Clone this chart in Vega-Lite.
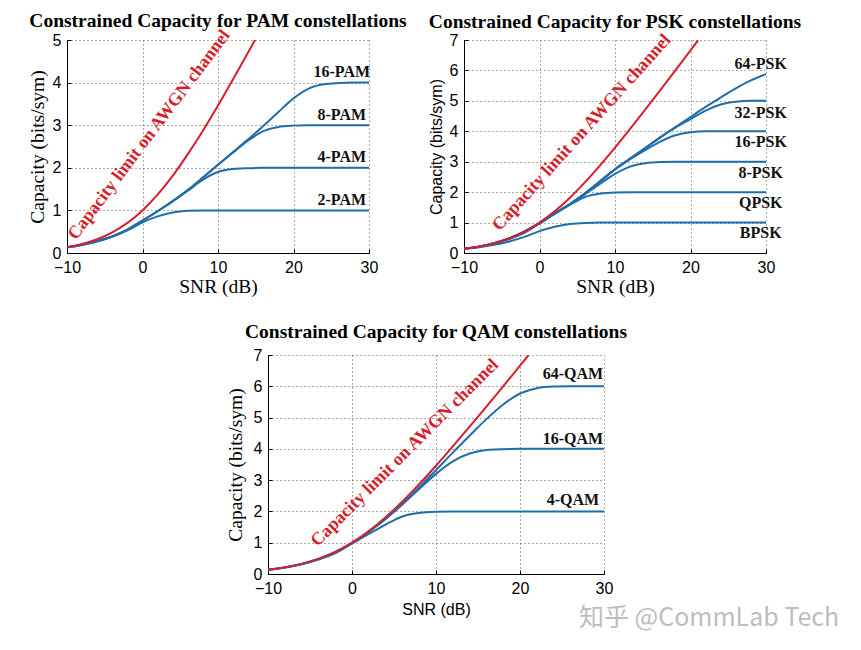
{
  "$schema": "https://vega.github.io/schema/vega-lite/v6.json",
  "background": "white",
  "padding": {"left": 27, "top": 11, "right": 0, "bottom": 0},
  "autosize": {"type": "pad"},
  "config": {
    "view": {"stroke": null},
    "font": "Liberation Sans",
    "axis": {
      "labelFont": "Liberation Sans", "labelFontSize": 16, "labelColor": "#000", "labelFlush": false,
      "grid": true, "gridDash": [1, 3], "gridColor": "#555", "gridWidth": 1,
      "domainColor": "#000", "domainWidth": 1, "ticks": true, "tickSize": -4, "tickColor": "#000",
      "titleColor": "#000", "titleFontWeight": "normal"
    },
    "axisX": {"labelPadding": 10, "titlePadding": 2},
    "axisY": {"labelPadding": 10, "titlePadding": 5},
    "title": {"font": "Liberation Serif", "fontSize": 19.5, "fontWeight": "bold", "color": "#000", "anchor": "middle"}
  },
  "datasets": {
    "pam": [
      {"curve": "AWGN", "snr": -10, "cap": 0.137}, {"curve": "AWGN", "snr": -8, "cap": 0.212}, {"curve": "AWGN", "snr": -6, "cap": 0.323}, {"curve": "AWGN", "snr": -4, "cap": 0.484}, {"curve": "AWGN", "snr": -2, "cap": 0.706}, {"curve": "AWGN", "snr": 0, "cap": 1.0}, {"curve": "AWGN", "snr": 2, "cap": 1.37}, {"curve": "AWGN", "snr": 4, "cap": 1.81}, {"curve": "AWGN", "snr": 6, "cap": 2.32}, {"curve": "AWGN", "snr": 8, "cap": 2.87}, {"curve": "AWGN", "snr": 10, "cap": 3.46}, {"curve": "AWGN", "snr": 12, "cap": 4.08}, {"curve": "AWGN", "snr": 14, "cap": 4.71}, {"curve": "AWGN", "snr": 15, "cap": 5.03},
      {"curve": "16-PAM", "snr": -10, "cap": 0.135}, {"curve": "16-PAM", "snr": -8, "cap": 0.195}, {"curve": "16-PAM", "snr": -6, "cap": 0.28}, {"curve": "16-PAM", "snr": -4, "cap": 0.39}, {"curve": "16-PAM", "snr": -2, "cap": 0.55}, {"curve": "16-PAM", "snr": 0, "cap": 0.76}, {"curve": "16-PAM", "snr": 2, "cap": 0.98}, {"curve": "16-PAM", "snr": 4, "cap": 1.22}, {"curve": "16-PAM", "snr": 6, "cap": 1.48}, {"curve": "16-PAM", "snr": 8, "cap": 1.77}, {"curve": "16-PAM", "snr": 10, "cap": 2.07}, {"curve": "16-PAM", "snr": 12, "cap": 2.37}, {"curve": "16-PAM", "snr": 14, "cap": 2.67}, {"curve": "16-PAM", "snr": 16, "cap": 2.98}, {"curve": "16-PAM", "snr": 18, "cap": 3.31}, {"curve": "16-PAM", "snr": 20, "cap": 3.63}, {"curve": "16-PAM", "snr": 22, "cap": 3.86}, {"curve": "16-PAM", "snr": 24, "cap": 3.96}, {"curve": "16-PAM", "snr": 26, "cap": 3.99}, {"curve": "16-PAM", "snr": 28, "cap": 4.0}, {"curve": "16-PAM", "snr": 30, "cap": 4.0},
      {"curve": "8-PAM", "snr": -10, "cap": 0.135}, {"curve": "8-PAM", "snr": -8, "cap": 0.195}, {"curve": "8-PAM", "snr": -6, "cap": 0.28}, {"curve": "8-PAM", "snr": -4, "cap": 0.39}, {"curve": "8-PAM", "snr": -2, "cap": 0.55}, {"curve": "8-PAM", "snr": 0, "cap": 0.76}, {"curve": "8-PAM", "snr": 2, "cap": 0.98}, {"curve": "8-PAM", "snr": 4, "cap": 1.22}, {"curve": "8-PAM", "snr": 6, "cap": 1.48}, {"curve": "8-PAM", "snr": 8, "cap": 1.77}, {"curve": "8-PAM", "snr": 10, "cap": 2.07}, {"curve": "8-PAM", "snr": 12, "cap": 2.36}, {"curve": "8-PAM", "snr": 14, "cap": 2.64}, {"curve": "8-PAM", "snr": 16, "cap": 2.86}, {"curve": "8-PAM", "snr": 18, "cap": 2.96}, {"curve": "8-PAM", "snr": 20, "cap": 2.99}, {"curve": "8-PAM", "snr": 22, "cap": 3.0}, {"curve": "8-PAM", "snr": 30, "cap": 3.0},
      {"curve": "4-PAM", "snr": -10, "cap": 0.135}, {"curve": "4-PAM", "snr": -8, "cap": 0.195}, {"curve": "4-PAM", "snr": -6, "cap": 0.28}, {"curve": "4-PAM", "snr": -4, "cap": 0.39}, {"curve": "4-PAM", "snr": -2, "cap": 0.55}, {"curve": "4-PAM", "snr": 0, "cap": 0.76}, {"curve": "4-PAM", "snr": 2, "cap": 0.98}, {"curve": "4-PAM", "snr": 4, "cap": 1.21}, {"curve": "4-PAM", "snr": 6, "cap": 1.46}, {"curve": "4-PAM", "snr": 8, "cap": 1.72}, {"curve": "4-PAM", "snr": 10, "cap": 1.9}, {"curve": "4-PAM", "snr": 12, "cap": 1.97}, {"curve": "4-PAM", "snr": 14, "cap": 1.99}, {"curve": "4-PAM", "snr": 16, "cap": 2.0}, {"curve": "4-PAM", "snr": 30, "cap": 2.0},
      {"curve": "2-PAM", "snr": -10, "cap": 0.13}, {"curve": "2-PAM", "snr": -8, "cap": 0.19}, {"curve": "2-PAM", "snr": -6, "cap": 0.27}, {"curve": "2-PAM", "snr": -4, "cap": 0.38}, {"curve": "2-PAM", "snr": -2, "cap": 0.53}, {"curve": "2-PAM", "snr": 0, "cap": 0.72}, {"curve": "2-PAM", "snr": 2, "cap": 0.86}, {"curve": "2-PAM", "snr": 4, "cap": 0.95}, {"curve": "2-PAM", "snr": 6, "cap": 0.99}, {"curve": "2-PAM", "snr": 8, "cap": 1.0}, {"curve": "2-PAM", "snr": 30, "cap": 1.0}
    ],
    "psk": [
      {"curve": "AWGN", "snr": -10, "cap": 0.137}, {"curve": "AWGN", "snr": -8, "cap": 0.212}, {"curve": "AWGN", "snr": -6, "cap": 0.323}, {"curve": "AWGN", "snr": -4, "cap": 0.484}, {"curve": "AWGN", "snr": -2, "cap": 0.706}, {"curve": "AWGN", "snr": 0, "cap": 1.0}, {"curve": "AWGN", "snr": 2, "cap": 1.37}, {"curve": "AWGN", "snr": 4, "cap": 1.81}, {"curve": "AWGN", "snr": 6, "cap": 2.32}, {"curve": "AWGN", "snr": 8, "cap": 2.87}, {"curve": "AWGN", "snr": 10, "cap": 3.46}, {"curve": "AWGN", "snr": 12, "cap": 4.08}, {"curve": "AWGN", "snr": 14, "cap": 4.71}, {"curve": "AWGN", "snr": 16, "cap": 5.35}, {"curve": "AWGN", "snr": 18, "cap": 6.0}, {"curve": "AWGN", "snr": 20, "cap": 6.66}, {"curve": "AWGN", "snr": 21, "cap": 6.99},
      {"curve": "64-PSK", "snr": -10, "cap": 0.137}, {"curve": "64-PSK", "snr": -8, "cap": 0.21}, {"curve": "64-PSK", "snr": -6, "cap": 0.32}, {"curve": "64-PSK", "snr": -4, "cap": 0.48}, {"curve": "64-PSK", "snr": -2, "cap": 0.7}, {"curve": "64-PSK", "snr": 0, "cap": 0.98}, {"curve": "64-PSK", "snr": 2, "cap": 1.3}, {"curve": "64-PSK", "snr": 4, "cap": 1.6}, {"curve": "64-PSK", "snr": 6, "cap": 1.95}, {"curve": "64-PSK", "snr": 8, "cap": 2.35}, {"curve": "64-PSK", "snr": 10, "cap": 2.75}, {"curve": "64-PSK", "snr": 12, "cap": 3.1}, {"curve": "64-PSK", "snr": 14, "cap": 3.45}, {"curve": "64-PSK", "snr": 16, "cap": 3.8}, {"curve": "64-PSK", "snr": 18, "cap": 4.14}, {"curve": "64-PSK", "snr": 20, "cap": 4.47}, {"curve": "64-PSK", "snr": 22, "cap": 4.8}, {"curve": "64-PSK", "snr": 24, "cap": 5.11}, {"curve": "64-PSK", "snr": 26, "cap": 5.41}, {"curve": "64-PSK", "snr": 28, "cap": 5.67}, {"curve": "64-PSK", "snr": 30, "cap": 5.88},
      {"curve": "32-PSK", "snr": -10, "cap": 0.137}, {"curve": "32-PSK", "snr": -8, "cap": 0.21}, {"curve": "32-PSK", "snr": -6, "cap": 0.32}, {"curve": "32-PSK", "snr": -4, "cap": 0.48}, {"curve": "32-PSK", "snr": -2, "cap": 0.7}, {"curve": "32-PSK", "snr": 0, "cap": 0.98}, {"curve": "32-PSK", "snr": 2, "cap": 1.3}, {"curve": "32-PSK", "snr": 4, "cap": 1.6}, {"curve": "32-PSK", "snr": 6, "cap": 1.95}, {"curve": "32-PSK", "snr": 8, "cap": 2.35}, {"curve": "32-PSK", "snr": 10, "cap": 2.75}, {"curve": "32-PSK", "snr": 12, "cap": 3.1}, {"curve": "32-PSK", "snr": 14, "cap": 3.45}, {"curve": "32-PSK", "snr": 16, "cap": 3.8}, {"curve": "32-PSK", "snr": 18, "cap": 4.12}, {"curve": "32-PSK", "snr": 20, "cap": 4.4}, {"curve": "32-PSK", "snr": 22, "cap": 4.68}, {"curve": "32-PSK", "snr": 24, "cap": 4.88}, {"curve": "32-PSK", "snr": 26, "cap": 4.97}, {"curve": "32-PSK", "snr": 28, "cap": 5.0}, {"curve": "32-PSK", "snr": 30, "cap": 5.0},
      {"curve": "16-PSK", "snr": -10, "cap": 0.137}, {"curve": "16-PSK", "snr": -8, "cap": 0.21}, {"curve": "16-PSK", "snr": -6, "cap": 0.32}, {"curve": "16-PSK", "snr": -4, "cap": 0.48}, {"curve": "16-PSK", "snr": -2, "cap": 0.7}, {"curve": "16-PSK", "snr": 0, "cap": 0.98}, {"curve": "16-PSK", "snr": 2, "cap": 1.3}, {"curve": "16-PSK", "snr": 4, "cap": 1.6}, {"curve": "16-PSK", "snr": 6, "cap": 1.95}, {"curve": "16-PSK", "snr": 8, "cap": 2.35}, {"curve": "16-PSK", "snr": 10, "cap": 2.75}, {"curve": "16-PSK", "snr": 12, "cap": 3.08}, {"curve": "16-PSK", "snr": 14, "cap": 3.38}, {"curve": "16-PSK", "snr": 16, "cap": 3.66}, {"curve": "16-PSK", "snr": 18, "cap": 3.87}, {"curve": "16-PSK", "snr": 20, "cap": 3.97}, {"curve": "16-PSK", "snr": 22, "cap": 4.0}, {"curve": "16-PSK", "snr": 30, "cap": 4.0},
      {"curve": "8-PSK", "snr": -10, "cap": 0.137}, {"curve": "8-PSK", "snr": -8, "cap": 0.21}, {"curve": "8-PSK", "snr": -6, "cap": 0.32}, {"curve": "8-PSK", "snr": -4, "cap": 0.48}, {"curve": "8-PSK", "snr": -2, "cap": 0.7}, {"curve": "8-PSK", "snr": 0, "cap": 0.98}, {"curve": "8-PSK", "snr": 2, "cap": 1.3}, {"curve": "8-PSK", "snr": 4, "cap": 1.6}, {"curve": "8-PSK", "snr": 6, "cap": 1.93}, {"curve": "8-PSK", "snr": 8, "cap": 2.27}, {"curve": "8-PSK", "snr": 10, "cap": 2.6}, {"curve": "8-PSK", "snr": 12, "cap": 2.84}, {"curve": "8-PSK", "snr": 14, "cap": 2.95}, {"curve": "8-PSK", "snr": 16, "cap": 2.99}, {"curve": "8-PSK", "snr": 18, "cap": 3.0}, {"curve": "8-PSK", "snr": 30, "cap": 3.0},
      {"curve": "QPSK", "snr": -10, "cap": 0.137}, {"curve": "QPSK", "snr": -8, "cap": 0.206}, {"curve": "QPSK", "snr": -6, "cap": 0.31}, {"curve": "QPSK", "snr": -4, "cap": 0.46}, {"curve": "QPSK", "snr": -2, "cap": 0.66}, {"curve": "QPSK", "snr": 0, "cap": 0.97}, {"curve": "QPSK", "snr": 2, "cap": 1.28}, {"curve": "QPSK", "snr": 4, "cap": 1.58}, {"curve": "QPSK", "snr": 6, "cap": 1.84}, {"curve": "QPSK", "snr": 8, "cap": 1.95}, {"curve": "QPSK", "snr": 10, "cap": 1.99}, {"curve": "QPSK", "snr": 12, "cap": 2.0}, {"curve": "QPSK", "snr": 30, "cap": 2.0},
      {"curve": "BPSK", "snr": -10, "cap": 0.126}, {"curve": "BPSK", "snr": -8, "cap": 0.19}, {"curve": "BPSK", "snr": -6, "cap": 0.27}, {"curve": "BPSK", "snr": -4, "cap": 0.38}, {"curve": "BPSK", "snr": -2, "cap": 0.53}, {"curve": "BPSK", "snr": 0, "cap": 0.72}, {"curve": "BPSK", "snr": 2, "cap": 0.86}, {"curve": "BPSK", "snr": 4, "cap": 0.95}, {"curve": "BPSK", "snr": 6, "cap": 0.99}, {"curve": "BPSK", "snr": 8, "cap": 1.0}, {"curve": "BPSK", "snr": 30, "cap": 1.0}
    ],
    "qam": [
      {"curve": "AWGN", "snr": -10, "cap": 0.137}, {"curve": "AWGN", "snr": -8, "cap": 0.212}, {"curve": "AWGN", "snr": -6, "cap": 0.323}, {"curve": "AWGN", "snr": -4, "cap": 0.484}, {"curve": "AWGN", "snr": -2, "cap": 0.706}, {"curve": "AWGN", "snr": 0, "cap": 1.0}, {"curve": "AWGN", "snr": 2, "cap": 1.37}, {"curve": "AWGN", "snr": 4, "cap": 1.81}, {"curve": "AWGN", "snr": 6, "cap": 2.32}, {"curve": "AWGN", "snr": 8, "cap": 2.87}, {"curve": "AWGN", "snr": 10, "cap": 3.46}, {"curve": "AWGN", "snr": 12, "cap": 4.08}, {"curve": "AWGN", "snr": 14, "cap": 4.71}, {"curve": "AWGN", "snr": 16, "cap": 5.35}, {"curve": "AWGN", "snr": 18, "cap": 6.0}, {"curve": "AWGN", "snr": 20, "cap": 6.66}, {"curve": "AWGN", "snr": 21, "cap": 6.99},
      {"curve": "64-QAM", "snr": -10, "cap": 0.137}, {"curve": "64-QAM", "snr": -8, "cap": 0.21}, {"curve": "64-QAM", "snr": -6, "cap": 0.32}, {"curve": "64-QAM", "snr": -4, "cap": 0.48}, {"curve": "64-QAM", "snr": -2, "cap": 0.7}, {"curve": "64-QAM", "snr": 0, "cap": 0.99}, {"curve": "64-QAM", "snr": 2, "cap": 1.35}, {"curve": "64-QAM", "snr": 4, "cap": 1.77}, {"curve": "64-QAM", "snr": 6, "cap": 2.25}, {"curve": "64-QAM", "snr": 8, "cap": 2.77}, {"curve": "64-QAM", "snr": 10, "cap": 3.32}, {"curve": "64-QAM", "snr": 12, "cap": 3.88}, {"curve": "64-QAM", "snr": 14, "cap": 4.42}, {"curve": "64-QAM", "snr": 16, "cap": 4.95}, {"curve": "64-QAM", "snr": 18, "cap": 5.42}, {"curve": "64-QAM", "snr": 20, "cap": 5.77}, {"curve": "64-QAM", "snr": 22, "cap": 5.94}, {"curve": "64-QAM", "snr": 24, "cap": 5.99}, {"curve": "64-QAM", "snr": 26, "cap": 6.0}, {"curve": "64-QAM", "snr": 30, "cap": 6.0},
      {"curve": "16-QAM", "snr": -10, "cap": 0.137}, {"curve": "16-QAM", "snr": -8, "cap": 0.21}, {"curve": "16-QAM", "snr": -6, "cap": 0.32}, {"curve": "16-QAM", "snr": -4, "cap": 0.48}, {"curve": "16-QAM", "snr": -2, "cap": 0.7}, {"curve": "16-QAM", "snr": 0, "cap": 0.99}, {"curve": "16-QAM", "snr": 2, "cap": 1.35}, {"curve": "16-QAM", "snr": 4, "cap": 1.76}, {"curve": "16-QAM", "snr": 6, "cap": 2.22}, {"curve": "16-QAM", "snr": 8, "cap": 2.72}, {"curve": "16-QAM", "snr": 10, "cap": 3.2}, {"curve": "16-QAM", "snr": 12, "cap": 3.6}, {"curve": "16-QAM", "snr": 14, "cap": 3.85}, {"curve": "16-QAM", "snr": 16, "cap": 3.96}, {"curve": "16-QAM", "snr": 18, "cap": 3.99}, {"curve": "16-QAM", "snr": 20, "cap": 4.0}, {"curve": "16-QAM", "snr": 30, "cap": 4.0},
      {"curve": "4-QAM", "snr": -10, "cap": 0.137}, {"curve": "4-QAM", "snr": -8, "cap": 0.206}, {"curve": "4-QAM", "snr": -6, "cap": 0.31}, {"curve": "4-QAM", "snr": -4, "cap": 0.46}, {"curve": "4-QAM", "snr": -2, "cap": 0.66}, {"curve": "4-QAM", "snr": 0, "cap": 0.97}, {"curve": "4-QAM", "snr": 2, "cap": 1.28}, {"curve": "4-QAM", "snr": 4, "cap": 1.58}, {"curve": "4-QAM", "snr": 6, "cap": 1.84}, {"curve": "4-QAM", "snr": 8, "cap": 1.95}, {"curve": "4-QAM", "snr": 10, "cap": 1.99}, {"curve": "4-QAM", "snr": 12, "cap": 2.0}, {"curve": "4-QAM", "snr": 30, "cap": 2.0}
    ]
  },
  "spacing": 25,
  "vconcat": [
    {
      "spacing": 95,
      "bounds": "flush",
      "hconcat": [
        {
          "width": 302, "height": 213,
          "title": {"text": "Constrained Capacity for PAM constellations", "offset": -5},
          "encoding": {
            "x": {"field": "snr", "type": "quantitative", "scale": {"domain": [-10, 30], "nice": false, "zero": false},
                  "axis": {"values": [-10, 0, 10, 20, 30], "title": "SNR (dB)", "titleFont": "Liberation Serif", "titleFontSize": 19.5}},
            "y": {"field": "cap", "type": "quantitative", "scale": {"domain": [0, 5], "nice": false},
                  "axis": {"values": [0, 1, 2, 3, 4, 5], "title": "Capacity (bits/sym)", "titleFont": "Liberation Serif", "titleFontSize": 19.5}}
          },
          "layer": [
            {"data": {"name": "pam"}, "transform": [{"filter": "datum.curve !== 'AWGN'"}],
             "mark": {"type": "line", "color": "#1f6ea8", "strokeWidth": 2, "interpolate": "monotone", "clip": true},
             "encoding": {"detail": {"field": "curve"}}},
            {"data": {"name": "pam"}, "transform": [{"filter": "datum.curve === 'AWGN'"}],
             "mark": {"type": "line", "color": "#d61f2c", "strokeWidth": 2, "interpolate": "monotone", "clip": true},
             "encoding": {}},
            {"data": {"values": [
               {"snr": 26.4, "cap": 4.25, "label": "16-PAM"}, {"snr": 26.4, "cap": 3.24, "label": "8-PAM"},
               {"snr": 26.4, "cap": 2.25, "label": "4-PAM"}, {"snr": 26.4, "cap": 1.24, "label": "2-PAM"}]},
             "mark": {"type": "text", "font": "Liberation Serif", "fontSize": 16, "fontWeight": "bold", "color": "#111", "align": "center", "baseline": "middle"},
             "encoding": {"text": {"field": "label"}}},
            {"data": {"values": [{"snr": 0.9, "cap": 2.77, "label": "Capacity limit on AWGN channel"}]},
             "mark": {"type": "text", "angle": -53, "font": "Liberation Serif", "fontSize": 18, "fontWeight": "bold", "color": "#d61f2c", "align": "center", "baseline": "middle"},
             "encoding": {"text": {"field": "label"}}}
          ]
        },
        {
          "width": 302, "height": 213,
          "title": {"text": "Constrained Capacity for PSK constellations", "offset": -2},
          "encoding": {
            "x": {"field": "snr", "type": "quantitative", "scale": {"domain": [-10, 30], "nice": false, "zero": false},
                  "axis": {"values": [-10, 0, 10, 20, 30], "title": "SNR (dB)", "titleFont": "Liberation Serif", "titleFontSize": 19.5}},
            "y": {"field": "cap", "type": "quantitative", "scale": {"domain": [0, 7], "nice": false},
                  "axis": {"values": [0, 1, 2, 3, 4, 5, 6, 7], "title": "Capacity (bits/sym)", "titleFont": "Liberation Sans", "titleFontSize": 16}}
          },
          "layer": [
            {"data": {"name": "psk"}, "transform": [{"filter": "datum.curve !== 'AWGN'"}],
             "mark": {"type": "line", "color": "#1f6ea8", "strokeWidth": 2, "interpolate": "monotone", "clip": true},
             "encoding": {"detail": {"field": "curve"}}},
            {"data": {"name": "psk"}, "transform": [{"filter": "datum.curve === 'AWGN'"}],
             "mark": {"type": "line", "color": "#d61f2c", "strokeWidth": 2, "interpolate": "monotone", "clip": true},
             "encoding": {}},
            {"data": {"values": [
               {"snr": 29.3, "cap": 6.22, "label": "64-PSK"}, {"snr": 29.3, "cap": 4.61, "label": "32-PSK"},
               {"snr": 29.3, "cap": 3.66, "label": "16-PSK"}, {"snr": 29.3, "cap": 2.64, "label": "8-PSK"},
               {"snr": 29.3, "cap": 1.63, "label": "QPSK"}, {"snr": 29.3, "cap": 0.67, "label": "BPSK"}]},
             "mark": {"type": "text", "font": "Liberation Serif", "fontSize": 16, "fontWeight": "bold", "color": "#111", "align": "center", "baseline": "middle"},
             "encoding": {"text": {"field": "label"}}},
            {"data": {"values": [{"snr": 5.6, "cap": 3.95, "label": "Capacity limit on AWGN channel"}]},
             "mark": {"type": "text", "angle": -48, "font": "Liberation Serif", "fontSize": 18, "fontWeight": "bold", "color": "#d61f2c", "align": "center", "baseline": "middle"},
             "encoding": {"text": {"field": "label"}}}
          ]
        }
      ]
    },
    {
      "spacing": 0,
      "bounds": "flush",
      "hconcat": [
        {
          "width": 201, "height": 219,
          "data": {"values": [{"snr": 0}]},
          "mark": {"type": "point", "opacity": 0},
          "encoding": {}
        },
        {
          "width": 336, "height": 219,
          "title": {"text": "Constrained Capacity for QAM constellations", "offset": 5},
          "encoding": {
            "x": {"field": "snr", "type": "quantitative", "scale": {"domain": [-10, 30], "nice": false, "zero": false},
                  "axis": {"values": [-10, 0, 10, 20, 30], "title": "SNR (dB)", "titleFont": "Liberation Sans", "titleFontSize": 16, "titlePadding": 5}},
            "y": {"field": "cap", "type": "quantitative", "scale": {"domain": [0, 7], "nice": false},
                  "axis": {"values": [0, 1, 2, 3, 4, 5, 6, 7], "title": "Capacity (bits/sym)", "titleFont": "Liberation Serif", "titleFontSize": 19.5, "titlePadding": 8}}
          },
          "layer": [
            {"data": {"name": "qam"}, "transform": [{"filter": "datum.curve !== 'AWGN'"}],
             "mark": {"type": "line", "color": "#1f6ea8", "strokeWidth": 2, "interpolate": "monotone", "clip": true},
             "encoding": {"detail": {"field": "curve"}}},
            {"data": {"name": "qam"}, "transform": [{"filter": "datum.curve === 'AWGN'"}],
             "mark": {"type": "line", "color": "#d61f2c", "strokeWidth": 2, "interpolate": "monotone", "clip": true},
             "encoding": {}},
            {"data": {"values": [
               {"snr": 26.3, "cap": 6.38, "label": "64-QAM"}, {"snr": 26.3, "cap": 4.33, "label": "16-QAM"},
               {"snr": 26.3, "cap": 2.35, "label": "4-QAM"}]},
             "mark": {"type": "text", "font": "Liberation Serif", "fontSize": 16, "fontWeight": "bold", "color": "#111", "align": "center", "baseline": "middle"},
             "encoding": {"text": {"field": "label"}}},
            {"data": {"values": [{"snr": 6.3, "cap": 3.87, "label": "Capacity limit on AWGN channel"}]},
             "mark": {"type": "text", "angle": -45, "font": "Liberation Serif", "fontSize": 18, "fontWeight": "bold", "color": "#d61f2c", "align": "center", "baseline": "middle"},
             "encoding": {"text": {"field": "label"}}},
            {"data": {"values": [{"snr": 58, "cap": -1.41, "label": "知乎 @CommLab Tech"}]},
             "mark": {"type": "text", "font": "Noto Sans CJK SC", "fontSize": 25, "color": "#bdbdbd", "align": "right", "baseline": "middle"},
             "encoding": {"text": {"field": "label"}}}
          ]
        }
      ]
    }
  ]
}
